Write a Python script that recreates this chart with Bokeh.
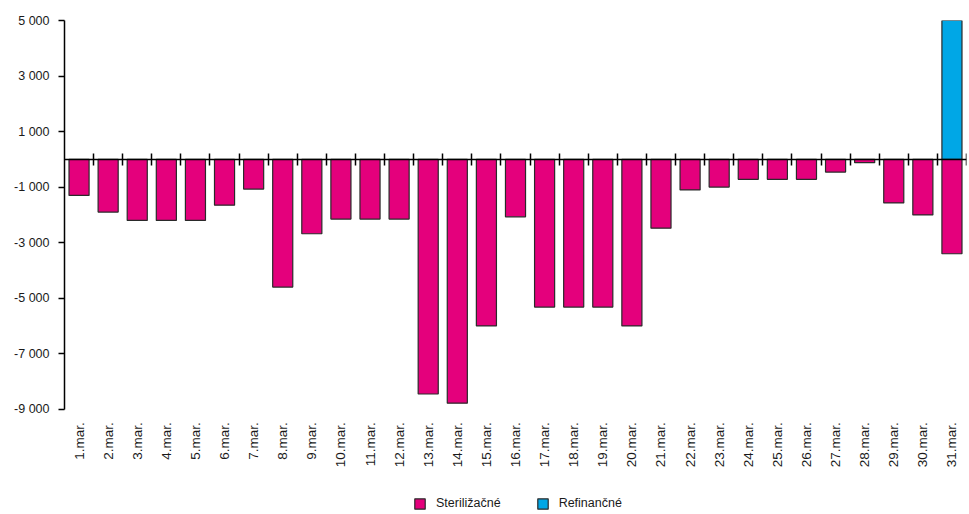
import math
from bokeh.plotting import figure
from bokeh.models import LinearAxis, FixedTicker, Legend, LegendItem, ColumnDataSource
from bokeh.embed import file_html
from bokeh.resources import INLINE

# ---- data ----
days = [f"{d}.mar." for d in range(1, 32)]
sterilizacne = [-1300, -1900, -2200, -2200, -2200, -1650, -1070, -4600, -2680,
                -2150, -2150, -2150, -8450, -8780, -6000, -2070, -5320, -5320,
                -5320, -6000, -2480, -1100, -1000, -720, -720, -720, -460,
                -120, -1570, -2000, -3400]
refinancne = [0] * 30 + [5000]
y_ticks = [5000, 3000, 1000, -1000, -3000, -5000, -7000, -9000]
series_names = ["Steriližačné", "Refinančné"]
colors = ["#E4007C", "#00A7E6"]

FONT = "Liberation Sans"
TXT = "#1a1a1a"

# ---- layout constants ----
W, H = 968, 513
LEFT, TOP, RIGHT, BOTTOM = 64, 20, 2, 2
AXIS_SPAN_PX = 388.75          # pixel height from top tick to bottom tick
ymax, ymin_axis = max(y_ticks), min(y_ticks)
units_per_px = (ymax - ymin_axis) / AXIS_SPAN_PX
frame_h = H - TOP - BOTTOM
ymin_frame = ymax - frame_h * units_per_px   # frame extends below axis for labels/legend

xs = list(range(1, len(days) + 1))
src_s = ColumnDataSource(dict(x=xs, top=sterilizacne))
rx = [x for x, v in zip(xs, refinancne) if v != 0]
rv = [v for v in refinancne if v != 0]
src_r = ColumnDataSource(dict(x=rx, top=rv))

p = figure(width=W, height=H, x_range=(0.5, len(days) + 0.5),
           y_range=(ymin_frame, ymax),
           output_backend="svg", toolbar_location=None,
           min_border_left=LEFT, min_border_right=RIGHT, min_border_top=TOP,
           min_border_bottom=BOTTOM)
p.outline_line_color = None
p.xgrid.visible = False
p.ygrid.visible = False

r_s = p.vbar(x="x", top="top", bottom=0, width=0.69, source=src_s,
             fill_color=colors[0], line_color="#2a2a2a", line_width=1.2)
r_r = p.vbar(x="x", top="top", bottom=0, width=0.69, source=src_r,
             fill_color=colors[1], line_color="#2a2a2a", line_width=1.2)

# y axis
ya = p.yaxis[0]
ya.bounds = (ymin_axis, ymax)
ya.ticker = FixedTicker(ticks=y_ticks)
ya.major_label_overrides = {v: f"{v:,}".replace(",", " ") for v in y_ticks}
ya.major_tick_in = 0
ya.major_tick_out = 6
ya.minor_tick_line_color = None
ya.axis_line_width = 1.5
ya.major_tick_line_width = 1.5
ya.axis_line_color = "black"
ya.major_tick_line_color = "black"
ya.major_label_text_font = FONT
ya.major_label_text_font_size = "12.5px"
ya.major_label_text_color = TXT
ya.major_label_standoff = 9

# x axis with day labels, pinned at the bottom of the value axis
xa = p.xaxis[0]
xa.fixed_location = ymin_axis
xa.ticker = FixedTicker(ticks=xs)
xa.major_label_overrides = {x: d for x, d in zip(xs, days)}
xa.major_label_orientation = math.pi / 2
xa.axis_line_color = None
xa.major_tick_line_color = None
xa.major_tick_in = 0
xa.major_tick_out = 0
xa.minor_tick_line_color = None
xa.major_label_text_font = FONT
xa.major_label_text_font_size = "13.5px"
xa.major_label_text_color = TXT
xa.major_label_standoff = 13

# zero axis with ticks between categories
za = LinearAxis(fixed_location=0,
                ticker=FixedTicker(ticks=[x + 0.5 for x in xs]))
za.major_tick_in = 6
za.major_tick_out = 6
za.major_tick_line_width = 1.5
za.major_tick_line_color = "black"
za.axis_line_width = 1.5
za.axis_line_color = "black"
za.minor_tick_line_color = None
za.major_label_text_font_size = "0px"
za.major_label_text_alpha = 0
p.add_layout(za, "below")

legend = Legend(items=[LegendItem(label=series_names[0], renderers=[r_s]),
                       LegendItem(label=series_names[1], renderers=[r_r])],
                orientation="horizontal", location=(349, 1))
legend.border_line_color = None
legend.background_fill_alpha = 0
legend.glyph_width = 13
legend.glyph_height = 13
legend.label_text_font = FONT
legend.label_text_font_size = "12.5px"
legend.label_text_color = TXT
legend.label_standoff = 10
legend.spacing = 35
legend.padding = 0
legend.margin = 0
legend.label_height = 13
p.add_layout(legend, "center")

open("out.html", "w").write(file_html(p, INLINE))
